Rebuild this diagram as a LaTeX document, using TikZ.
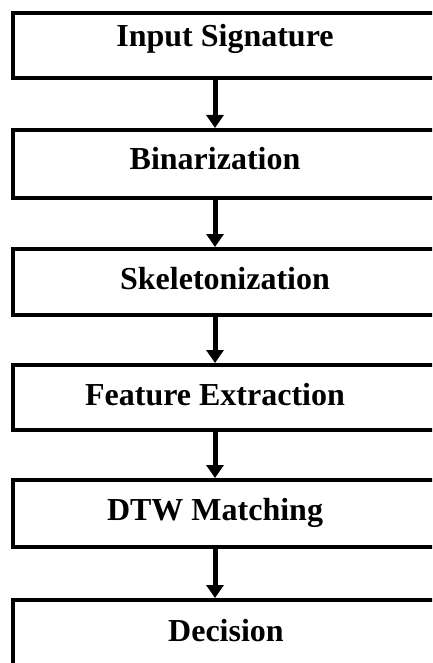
\documentclass[tikz,border=0pt]{standalone}
\usepackage{fontspec}
\setmainfont{Liberation Serif}
\usetikzlibrary{arrows.meta}
\begin{document}
\begin{tikzpicture}[x=1pt,y=-1pt,
  stagebox/.style={draw=black,line width=4pt,inner sep=0pt,minimum width=427pt},
  lbl/.style={anchor=base,inner sep=0pt,font=\fontsize{32}{38}\selectfont\bfseries},
  arr/.style={line width=5pt,-{Triangle[width=17pt,length=13pt]}}]
\clip (0,0) rectangle (432,663);
\fill[white] (0,0) rectangle (432,663);
\node[stagebox,minimum height=65pt] (b1) at (226.5,45.5) {};
\node[stagebox,minimum height=68pt] (b2) at (226.5,164) {};
\node[stagebox,minimum height=66pt] (b3) at (226.5,282) {};
\node[stagebox,minimum height=65pt] (b4) at (226.5,397.5) {};
\node[stagebox,minimum height=67pt] (b5) at (226.5,513.5) {};
\node[stagebox,minimum height=68pt] (b6) at (226.5,634) {};
\node[lbl] (t1) at (225,47) {Input Signature};
\node[lbl] (t2) at (215,170) {Binarization};
\node[lbl] (t3) at (225,289) {Skeletonization};
\node[lbl] (t4) at (215,405) {Feature Extraction};
\node[lbl] (t5) at (215,520) {DTW Matching};
\node[lbl] (t6) at (226,641) {Decision};
\foreach \a/\b in {b1/b2,b2/b3,b3/b4,b4/b5,b5/b6}
  \draw[arr] ([xshift=-11.5pt]\a.south) -- ([xshift=-11.5pt]\b.north);
\end{tikzpicture}
\end{document}
